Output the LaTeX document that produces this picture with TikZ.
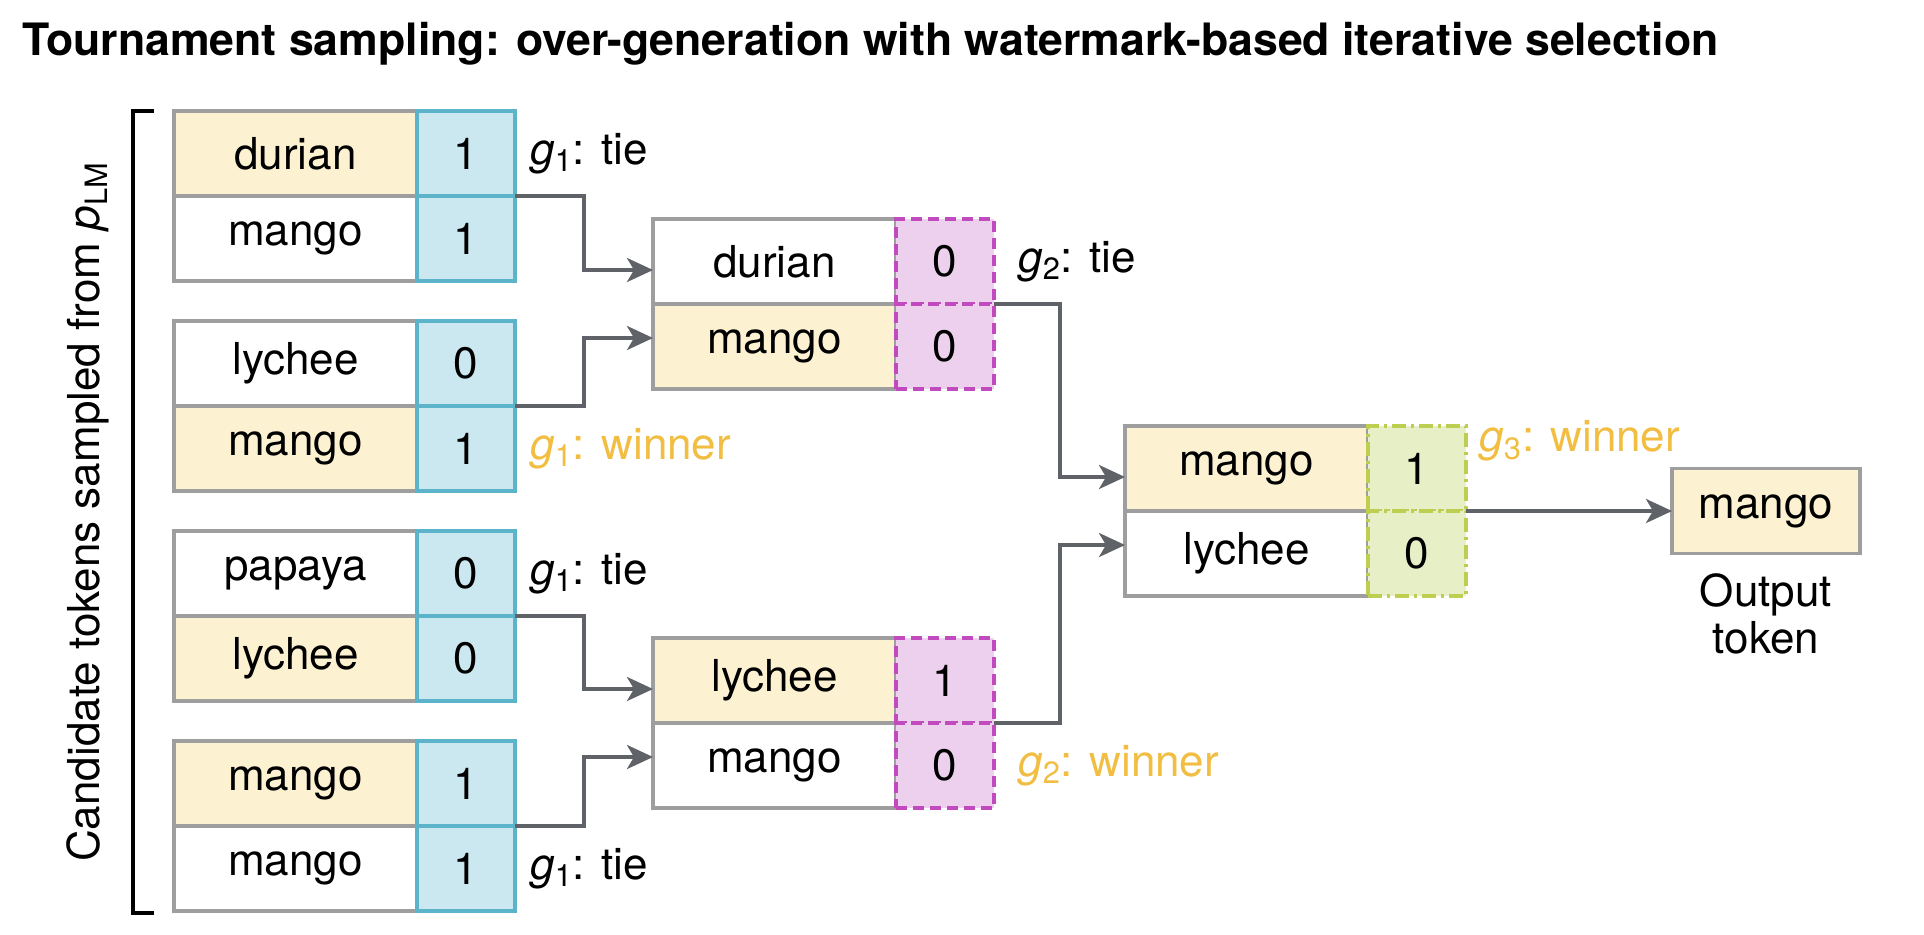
\documentclass[tikz,border=0pt]{standalone}
\usepackage{fontspec}
\setmainfont{TeX Gyre Heros}
\usetikzlibrary{positioning,arrows.meta}

\definecolor{cream}{RGB}{252,242,209}
\definecolor{cellgray}{RGB}{158,158,158}
\definecolor{scoreAfill}{RGB}{203,232,240}
\definecolor{scoreAline}{RGB}{91,180,202}
\definecolor{scoreBfill}{RGB}{237,208,237}
\definecolor{scoreBline}{RGB}{192,74,190}
\definecolor{scoreCfill}{RGB}{231,239,198}
\definecolor{scoreCline}{RGB}{190,206,80}
\definecolor{linkgray}{RGB}{95,99,104}
\definecolor{winorange}{RGB}{242,190,66}

\tikzset{
    tok/.style = {draw=cellgray, line width=1.75pt, minimum width=121.5pt, minimum height=42.5pt, inner sep=0pt, outer sep=0pt},
    pick/.style = {tok, fill=cream},
    sc/.style = {line width=1.75pt, minimum width=49pt, minimum height=42.5pt, inner sep=0pt, outer sep=0pt},
    scA/.style = {sc, draw=scoreAline, fill=scoreAfill},
    scB/.style = {sc, draw=scoreBline, fill=scoreBfill, dash pattern=on 5.5pt off 3pt},
    scC/.style = {sc, draw=scoreCline, fill=scoreCfill, dash pattern=on 7pt off 2.5pt on 1.5pt off 2.5pt},
    link/.style = {draw=linkgray, line width=1.75pt, -{Stealth[length=13pt, width=12pt, inset=3.5pt]}},
    tag/.style = {anchor=west, inner sep=0pt},
    win/.style = {tag, text=winorange}
}

\begin{document}
\begin{tikzpicture}[x=0.5pt, y=-0.5pt, font=\fontsize{22}{23.5}\selectfont]
    \fill[white] (0,0) rectangle (1924,934);
    \useasboundingbox (0,0) rectangle (1924,934);

    \node[anchor=base west, inner sep=0pt, font=\fontsize{22.3}{26}\selectfont\bfseries] (title) at (22,55)
        {Tournament sampling: over-generation with watermark-based iterative selection};

    %%%%%%%%%% candidates %%%%%%%%%%%%%%%%%%%
    \node[rotate=90] (cand) at (88,512) {Candidate tokens sampled from \textit{p}\textsubscript{LM}};
    \draw[line width=1.75pt] (154,111) -- (133,111) -- (133,913) -- (154,913);

    \foreach \k/\ta/\sa/\fa/\tb/\sb/\fb in {0/durian/1/pick/mango/1/tok, 1/lychee/0/tok/mango/1/pick, 2/papaya/0/tok/lychee/0/pick, 3/mango/1/pick/mango/1/tok} {
        \node[\fa] (c1-\k-a) at (295.5, {153.5+210*\k}) {\ta};
        \node[scA, right=0pt of c1-\k-a] (c1-\k-as) {\sa};
        \node[\fb, below=0pt of c1-\k-a] (c1-\k-b) {\tb};
        \node[scA, right=0pt of c1-\k-b] (c1-\k-bs) {\sb};
    }

    \node[tag, right=7.5pt of c1-0-as] (t1) {\textit{g}\textsubscript{1}: tie};
    \node[win, right=7.5pt of c1-1-bs] (t2) {\textit{g}\textsubscript{1}: winner};
    \node[tag, right=7.5pt of c1-2-as] (t3) {\textit{g}\textsubscript{1}: tie};
    \node[tag, right=7.5pt of c1-3-bs] (t4) {\textit{g}\textsubscript{1}: tie};

    %%%%%%%%%% round 2 %%%%%%%%%%%%%%%%%%%
    \node[tok] (c2-0-a) at (774.5,261.5) {durian};
    \node[scB, right=0pt of c2-0-a] (c2-0-as) {0};
    \node[pick, below=0pt of c2-0-a] (c2-0-b) {mango};
    \node[scB, right=0pt of c2-0-b] (c2-0-bs) {0};

    \node[pick] (c2-1-a) at (774.5,680.5) {lychee};
    \node[scB, right=0pt of c2-1-a] (c2-1-as) {1};
    \node[tok, below=0pt of c2-1-a] (c2-1-b) {mango};
    \node[scB, right=0pt of c2-1-b] (c2-1-bs) {0};

    \node[tag, right=12pt of c2-0-as] (t5) {\textit{g}\textsubscript{2}: tie};
    \node[win, right=12pt of c2-1-bs] (t6) {\textit{g}\textsubscript{2}: winner};

    %%%%%%%%%% round 3 %%%%%%%%%%%%%%%%%%%
    \node[pick] (c3-0-a) at (1246.5,468.5) {mango};
    \node[scC, right=0pt of c3-0-a] (c3-0-as) {1};
    \node[tok, below=0pt of c3-0-a] (c3-0-b) {lychee};
    \node[scC, right=0pt of c3-0-b] (c3-0-bs) {0};

    \node[win] (t7) at ([xshift=6.5pt, yshift=-7.5pt]c3-0-as.north east) {\textit{g}\textsubscript{3}: winner};

    \node[pick, minimum width=94pt] (out) at (1766,511) {mango};
    \node[below=10pt of out, align=center, inner sep=0pt] (outlab) {Output\\token};

    %%%%%%%%%% links %%%%%%%%%%%%%%%%%%%
    \draw[link] (c1-0-as.south east) -- ++(69,0) |- ([yshift=17pt]c2-0-a.south west);
    \draw[link] (c1-1-as.south east) -- ++(69,0) |- ([yshift=-17pt]c2-0-b.north west);
    \draw[link] (c1-2-as.south east) -- ++(69,0) |- ([yshift=17pt]c2-1-a.south west);
    \draw[link] (c1-3-as.south east) -- ++(69,0) |- ([yshift=-17pt]c2-1-b.north west);
    \draw[link] (c2-0-as.south east) -- ++(66,0) |- ([yshift=17pt]c3-0-a.south west);
    \draw[link] (c2-1-as.south east) -- ++(66,0) |- ([yshift=-17pt]c3-0-b.north west);
    \draw[link] (c3-0-as.south east) -- (out.west);
\end{tikzpicture}
\end{document}
